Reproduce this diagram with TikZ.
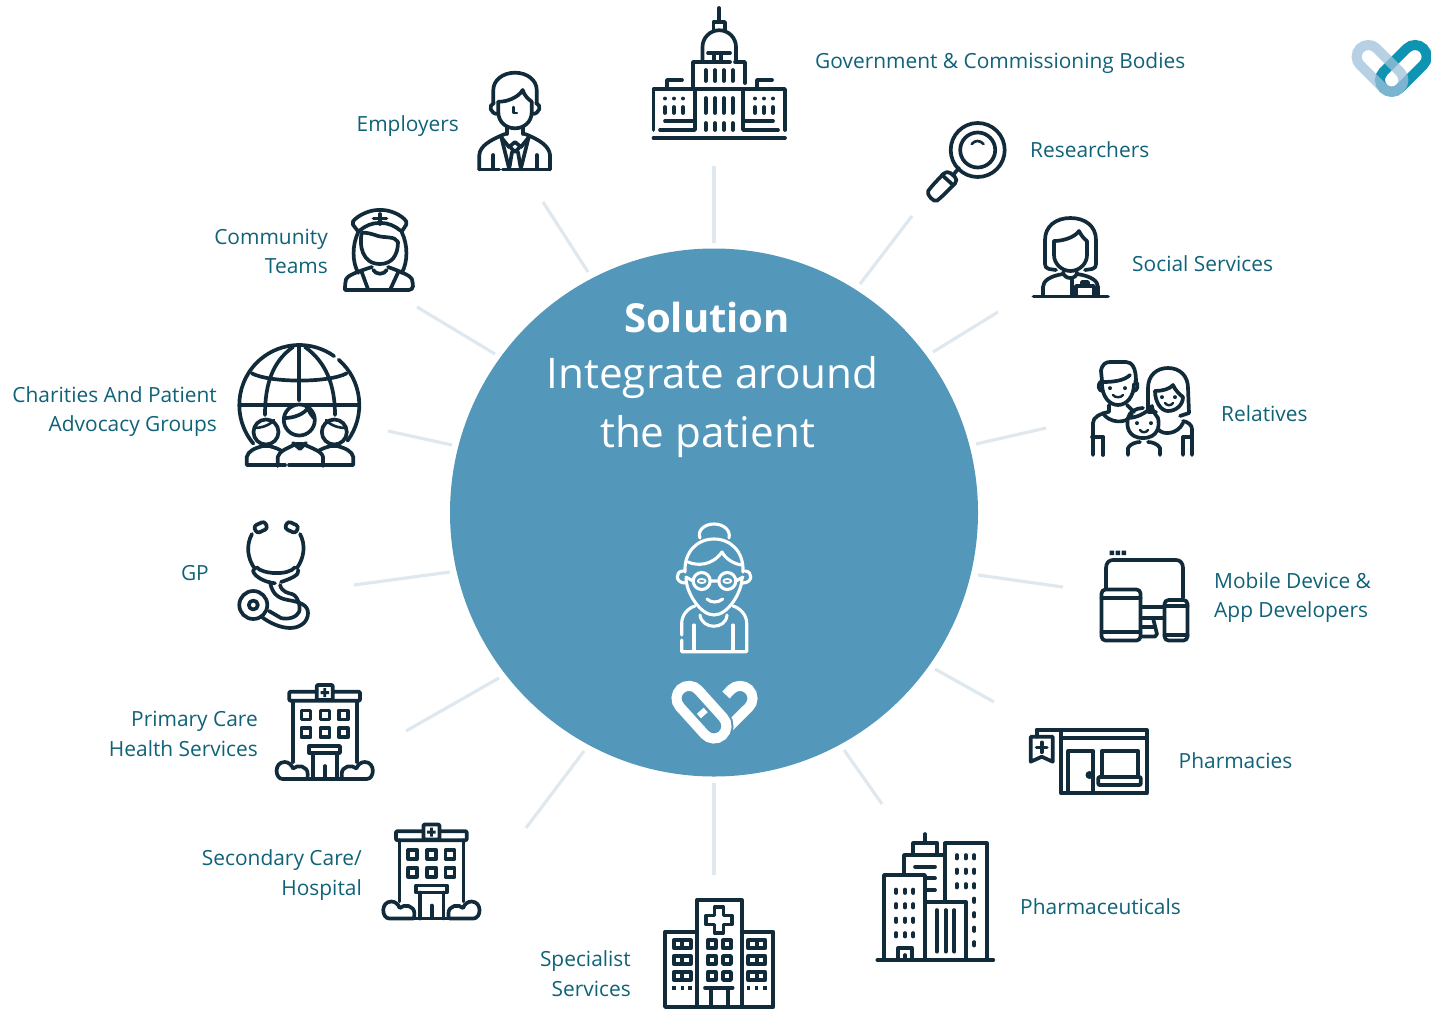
\documentclass[tikz,border=0pt]{standalone}
\usepackage{fontspec}
\setmainfont{Open Sans}
\usetikzlibrary{positioning}
\definecolor{hubblue}{HTML}{5398BB}
\definecolor{labelteal}{HTML}{0F6278}
\definecolor{iconnavy}{HTML}{122B3A}
\definecolor{spokegrey}{HTML}{DFE8EE}
\definecolor{logolight}{HTML}{9FC0D9}
\definecolor{logoteal}{HTML}{0E93B3}
\tikzset{
  icon/.style={draw=iconnavy,line width=3.7pt,line cap=round,line join=round},
  whiteicon/.style={draw=white,line width=3.1pt,line cap=round,line join=round},
  spoke/.style={draw=spokegrey,line width=3.2pt},
  lefttext/.style={text=labelteal,font=\fontsize{20.9}{29.5}\selectfont,align=left,anchor=west,inner sep=0pt},
  righttext/.style={text=labelteal,font=\fontsize{20.9}{29.5}\selectfont,align=right,anchor=east,inner sep=0pt},
  hubtext/.style={text=white,font=\fontsize{42.2}{59}\selectfont,align=center,inner sep=0pt},
  hospital/.pic={
    \draw[icon,rounded corners=1pt] (-35.7,-0.3) rectangle (35,8.7);
    \draw[icon,rounded corners=1pt,fill=white] (-8.3,-7) rectangle (7.7,8);
    \fill[iconnavy] (-4.5,-1) rectangle (4,2) (-1.6,-3.8) rectangle (1.1,5);
    \draw[icon] (-32.3,8.7) -- (-32.3,70) (31.7,8.7) -- (31.7,70);
    \foreach \x in {-19,0,18.3} \foreach \y in {23,40.7}
      \draw[icon] (\x-4.5,\y-4.5) rectangle (\x+4.5,\y+4.5);
    \draw[icon] (-15.7,54) rectangle (15,61);
    \draw[icon] (-11.7,61) -- (-11.7,87) (11.7,61) -- (11.7,87) (0,74) -- (0,86);
    \draw[icon] (-18,87) -- (17,87);
    \foreach \s in {1,-1}
      \draw[icon,xshift=-0.3pt,xscale=\s] (-18,87) -- (-42,87) .. controls (-50,87) and (-51,70) .. (-40,70)
        .. controls (-36,70) and (-33,73) .. (-31.7,76.5) .. controls (-27,72) and (-17,74) .. (-17,82)
        .. controls (-17,84) and (-17,87) .. (-18,87);
  },
}

\begin{document}
\begin{tikzpicture}[x=1pt,y=-1pt]
\useasboundingbox (0,0) rectangle (1431,1009);

% Hub
\node[circle,fill=hubblue,inner sep=0pt,minimum size=528pt] (hub) at (714,512.5) {};
\node[hubtext,font=\fontsize{40}{59}\selectfont\bfseries] (solution) at (707,317.5) {Solution};
\node[hubtext] (integrate) at (712.5,377.5) {Integrate around};
\node[hubtext] (thepatient) at (707.5,437) {the patient};

% Spokes
\foreach \n/\ax/\ay/\bx/\by in {gov/714/243/714/166,res/860/284/912/216,soc/933/352/998/312,
    rel/976/444/1046/428,mob/978/575/1063/587,pha/935/669/994/702,phc/844/750/882/804,
    spe/714/783/714/875,sec/584/751/526/828,pri/499/678/406/731,gp/450/572/354/585,
    cha/452/445/388/431,com/495/354/417/307,emp/588/272/543/202} {
  \coordinate (\n inner) at (\ax,\ay);
  \coordinate (\n outer) at (\bx,\by);
  \draw[spoke] (\n inner) -- (\n outer);
}

% Labels
\node[lefttext] (govlabel) at (815,63) {Government \& Commissioning Bodies};
\node[lefttext] (reslabel) at (1030,150) {Researchers};
\node[lefttext] (soclabel) at (1132,263.5) {Social Services};
\node[lefttext] (rellabel) at (1221,414) {Relatives};
\node[lefttext] (moblabel) at (1214,597.5) {Mobile Device \&\\App Developers};
\node[lefttext] (phalabel) at (1178.5,760.5) {Pharmacies};
\node[lefttext] (phclabel) at (1020,906.5) {Pharmaceuticals};
\node[righttext] (spelabel) at (631,973.5) {Specialist\\Services};
\node[righttext] (seclabel) at (362,875) {Secondary Care/\\Hospital};
\node[righttext] (prilabel) at (258,734) {Primary Care\\Health Services};
\node[righttext] (gplabel) at (209,573) {GP};
\node[righttext] (chalabel) at (217,411.5) {Charities And Patient\\Advocacy Groups};
\node[righttext] (comlabel) at (328,251.5) {Community\\Teams};
\node[righttext] (emplabel) at (459,126) {Employers};

% Corner logo
\draw[logoteal,line width=10pt,rounded corners=11.7pt,rotate around={-135:(1415,56.7)}]
  (1403.3,45) rectangle (1459.7,68.4);
\draw[logolight,opacity=.75,line width=10pt,rounded corners=11.7pt,rotate around={-45:(1368.3,56.7)}]
  (1356.6,45) rectangle (1413,68.4);

% Patient
\draw[whiteicon] (700,538) .. controls (697,530) and (705,524) .. (714,524) .. controls (723,524) and (731,530) .. (729,538);
\draw[whiteicon] (685,572) .. controls (684,552) and (697,539) .. (714,539) .. controls (731,539) and (744,552) .. (743,572);
\draw[whiteicon] (686,578) .. controls (686,592) and (700,615) .. (714,615) .. controls (728,615) and (742,592) .. (742,578);
\draw[whiteicon] (688,562) .. controls (697,566) and (712,566) .. (722,552) .. controls (725,558) and (733,564) .. (742,565);
\draw[whiteicon] (683,571) .. controls (675,571) and (675,583) .. (685,583);
\draw[whiteicon] (745,571) .. controls (753,571) and (753,583) .. (743,583);
\draw[whiteicon] (701.7,581) circle (8.5) (727.3,581) circle (8.5);
\draw[whiteicon,line width=1.8pt] (701.7,581) ellipse (4 and 2) (727.3,581) ellipse (4 and 2);
\draw[whiteicon] (710,581) -- (719,581) (686,577) -- (693,581) (743,577) -- (736,581);
\draw[whiteicon] (707,599) .. controls (711,603) and (718,603) .. (722.7,599);
\draw[whiteicon] (681.7,635) -- (681.7,623) .. controls (681.7,615) and (688,608) .. (695,606);
\draw[whiteicon] (681.7,640) -- (681.7,651.7) -- (746.7,651.7) -- (746.7,623) .. controls (746.7,615) and (740,608) .. (733,606);
\draw[whiteicon] (694,625) -- (694,650) (733,625) -- (733,650);
\draw[whiteicon] (700,615) .. controls (702,630) and (726,630) .. (727,615);

% White logo
\draw[white,line width=10pt] (726,695) -- (731.2,689.5) arc[start angle=225,end angle=405,radius=12.5] -- (729,727);
\draw[hubblue,line width=14pt,rounded corners=12.5pt,rotate around={-48:(689,698.3)}]
  (676.5,685.8) rectangle (738.8,710.8);
\draw[white,line width=10pt,rounded corners=12.5pt,rotate around={-48:(689,698.3)}]
  (676.5,685.8) rectangle (738.8,710.8);
\fill[white,rotate around={-48:(702.3,713)}] (699.3,708.5) rectangle (705.3,717.5);

% Capitol
\draw[icon] (719,8) -- (719,21);
\draw[icon] (713.5,31) -- (713.5,22) -- (725,22) -- (725,31);
\draw[icon] (702.5,60) -- (702.5,47) arc[start angle=180,end angle=360,radius=16.75] -- (736,60);
\draw[icon] (708,53) -- (730,53) (714,55) -- (714,62) (721,55) -- (721,62);
\draw[icon] (730,62) -- (693,62) -- (693,88) (735,62) -- (745,62) -- (745,83);
\draw[icon] (653.5,130) -- (653.5,89) -- (785,89) -- (785,130);
\draw[icon] (667,87) -- (667,80) -- (682,80) (757,87) -- (757,80) -- (772,80);
\draw[icon] (695,89) -- (695,130) -- (660,130) (743,89) -- (743,130) -- (778,130);
\draw[icon] (665,121) -- (695,121) (745,121) -- (773,121);
\draw[icon] (653.5,138) -- (785,138);
\foreach \x in {705.7,715,723.7,732.7} {
  \draw[icon] (\x,70) -- (\x,81) (\x,98) -- (\x,113) (\x,123) -- (\x,130);
}
\foreach \x in {665,674,683,755,764,773} {
  \draw[icon] (\x,98.5) -- (\x,98.6) (\x,107) -- (\x,113);
}

% Magnifier
\draw[icon] (977.7,150) circle (27) (977.7,150) circle (17.5);
\draw[icon,line width=2.6pt] (971.7,144) .. controls (975,140) and (980,140) .. (983.5,144);
\draw[icon] (959,168) -- (953,175);
\draw[icon,rounded corners=5pt] (958.5,180) -- (947,170) -- (931,187) .. controls (926,194) and (934,203) .. (941,197.5) -- cycle;
\draw[icon] (942,175) -- (953,185);

% Social worker
\draw[icon] (1056,270) -- (1049,269) .. controls (1046,268) and (1045,267) .. (1045,264) -- (1045,240)
  .. controls (1045,226) and (1056,218) .. (1070.5,218) .. controls (1085,218) and (1096,226) .. (1096,240)
  -- (1096,264) .. controls (1096,267) and (1095,268) .. (1092,269) -- (1085,270);
\draw[icon] (1054,241) .. controls (1062,241) and (1074,238) .. (1079,231) .. controls (1081,235) and (1084,239) .. (1087,241);
\draw[icon] (1054,241) -- (1054,255) .. controls (1054,264) and (1062,271) .. (1070.5,271) .. controls (1079,271) and (1087,264) .. (1087,255) -- (1087,241);
\draw[icon] (1043,295) -- (1043,287) .. controls (1043,281) and (1050,276) .. (1063,274);
\draw[icon] (1098,295) -- (1098,287) .. controls (1098,281) and (1091,276) .. (1077,274);
\draw[icon] (1063,272) .. controls (1064,280) and (1077,280) .. (1077,272);
\draw[icon] (1072,280) -- (1072,295);
\draw[icon] (1076,296) -- (1076,286) -- (1094,286) -- (1094,296) (1082,286) -- (1082,282) -- (1088,282) -- (1088,286);
\draw[icon] (1033.5,296.5) -- (1108,296.5);

% Relatives
\draw[icon] (1102,381) -- (1101,371) .. controls (1102,364) and (1106,362) .. (1110,362) -- (1126,362) .. controls (1132,362) and (1136,368) .. (1136,381);
\draw[icon] (1103,382) .. controls (1112,382) and (1124,381) .. (1130,375);
\draw[icon] (1102,384) .. controls (1102,396) and (1109,405) .. (1118,405) .. controls (1127,405) and (1134,396) .. (1134,384);
\draw[icon] (1102,381) .. controls (1096,384) and (1099,392) .. (1103,391) (1135,381) .. controls (1140,384) and (1137,392) .. (1133,391);
\draw[icon] (1110,388) -- (1110,388.2) (1125,388) -- (1125,388.2);
\draw[icon,line width=2.4pt] (1113,395) .. controls (1115,398) and (1121,398) .. (1123,395);
\draw[icon] (1109,405) -- (1109,412) (1127,405) -- (1134,412);
\draw[icon] (1103,413) .. controls (1107,422) and (1127,426) .. (1132,414);
\draw[icon] (1093,455) -- (1093,423) .. controls (1093,417) and (1100,414) .. (1108,412);
\draw[icon] (1103,437) -- (1103,455);
\draw[icon] (1092,437) -- (1103,437);
\draw[icon] (1156,412) -- (1148,412) -- (1148,388) .. controls (1148,375) and (1157,368) .. (1168,368) .. controls (1180,368) and (1188,376) .. (1188,388) -- (1189,413) -- (1180,416);
\draw[icon] (1155,391) .. controls (1162,391) and (1170,389) .. (1173,385) .. controls (1175,390) and (1180,395) .. (1183,397);
\draw[icon] (1155,391) .. controls (1155,402) and (1161,411) .. (1168,411) .. controls (1176,411) and (1183,405) .. (1183,397);
\draw[icon] (1162,397) -- (1162,397.2) (1175,397) -- (1175,397.2);
\draw[icon,line width=2.4pt] (1165,403) .. controls (1167,406) and (1171,406) .. (1173,403);
\draw[icon] (1158,429) .. controls (1163,436) and (1178,434) .. (1183,423);
\draw[icon] (1183,455) -- (1183,437) (1192,455) -- (1192,429) .. controls (1192,425) and (1188,422) .. (1183,421);
\draw[icon] (1183,437) -- (1192,437);
\draw[icon,fill=white] (1128,418) .. controls (1126,426) and (1128,438) .. (1143,438) .. controls (1158,438) and (1160,426) .. (1158,418);
\draw[icon] (1128,418) .. controls (1135,418) and (1146,414) .. (1152,406) .. controls (1152,410) and (1155,414) .. (1158,418);
\draw[icon] (1128,418) .. controls (1129,412) and (1136,408) .. (1143,408);
\draw[icon] (1137,423) -- (1137,423.2) (1151,423) -- (1151,423.2);
\draw[icon,line width=2.4pt] (1140,430) .. controls (1142,433) and (1146,433) .. (1148,430);
\draw[icon] (1128,455) -- (1128,448) .. controls (1130,444) and (1136,442) .. (1140,442) (1148,442) .. controls (1152,442) and (1158,444) .. (1160,448) -- (1160,455);

% Devices
\fill[iconnavy] (1109.5,550.5) rectangle (1114,555) (1115.5,550.5) rectangle (1120,555) (1121.5,550.5) rectangle (1126,555);
\draw[icon] (1106,588) -- (1106,568) .. controls (1106,563) and (1109,560) .. (1113,560) -- (1176,560) .. controls (1180,560) and (1183,563) .. (1183,568) -- (1183,598);
\draw[icon,rounded corners=4pt] (1101.5,589.5) rectangle (1140.5,640.5);
\draw[icon] (1101.5,598.3) -- (1140.5,598.3) (1101.5,631.7) -- (1140.5,631.7);
\draw[icon,rounded corners=4pt] (1164.5,600) rectangle (1187.5,640.5);
\draw[icon] (1164.5,606) -- (1187.5,606) (1164.5,635) -- (1187.5,635);
\draw[icon] (1140.7,607.3) -- (1164.3,607.3) (1140.7,618) -- (1164.3,618);
\draw[icon] (1153,618) -- (1157,634) -- (1155,636.5) -- (1140.7,636.5);
\draw[icon] (1140.7,627) -- (1155,627);

% Pharmacy
\draw[icon] (1036.7,730) -- (1146.7,730) -- (1146.7,793.3) -- (1060.7,793.3) -- (1060.7,730) (1060.7,738.3) -- (1146.7,738.3);
\draw[icon] (1036.7,730) -- (1036.7,736.7);
\draw[icon] (1030.7,736.7) -- (1052.7,736.7) -- (1052.7,761.7) -- (1041.7,756.7) -- (1030.7,761.7) -- cycle;
\draw[icon,line width=3.6pt] (1036.5,747.3) -- (1046.9,747.3) (1041.7,742.3) -- (1041.7,752.3);
\draw[icon] (1068.3,793) -- (1068.3,751) -- (1093.3,751) -- (1093.3,793);
\fill[iconnavy] (1089.5,775) circle (4);
\draw[icon] (1101.7,777) -- (1101.7,751) -- (1138.3,751) -- (1138.3,777);
\draw[icon,rounded corners=1pt] (1098.3,777) rectangle (1140.7,785);

% Pharmaceuticals
\draw[icon] (877.3,960) -- (993.3,960);
\draw[icon] (884,960) -- (884,875) -- (925,875) -- (925,960);
\foreach \x in {896,905,913.3} \foreach \y in {889.5,904,918.5,933}
  \draw[icon] (\x,\y) -- (\x,\y+3.5);
\draw[icon] (898.3,960) -- (898.3,948) -- (911.7,948) -- (911.7,960) (905,955) -- (905,960);
\draw[icon] (904,875) -- (904,855) -- (945,855);
\draw[icon] (913.3,855) -- (913.3,843.3) -- (937.3,843.3) -- (937.3,855) (925,834) -- (925,843);
\draw[icon] (915,866.7) -- (935,866.7) (927,878.3) -- (935,878.3) (927,890) -- (935,890);
\draw[icon] (945,901) -- (945,843.3) -- (986.7,843.3) -- (986.7,960);
\foreach \x in {956.7,965.7,974.3} \foreach \y in {855,869.5,884}
  \draw[icon] (\x,\y) -- (\x,\y+3.5);
\foreach \y in {898.5,913,927.5,942}
  \draw[icon] (974.3,\y) -- (974.3,\y+3.5);
\draw[icon] (925,901.7) -- (965.7,901.7) -- (965.7,960);
\foreach \x in {936.7,945.7,954.3}
  \draw[icon] (\x,910) -- (\x,951.7);

% Specialist block
\draw[icon] (696.7,1007) -- (696.7,900) -- (741.7,900) -- (741.7,1007);
\draw[icon] (696.7,931.7) -- (665,931.7) -- (665,1007) -- (773.3,1007) -- (773.3,931.7) -- (741.7,931.7);
\draw[icon] (714.5,907) -- (723.5,907) -- (723.5,915.5) -- (732,915.5) -- (732,924.5) -- (723.5,924.5) -- (723.5,933) -- (714.5,933) -- (714.5,924.5) -- (706,924.5) -- (706,915.5) -- (714.5,915.5) -- cycle;
\foreach \y in {944.3,960,976} {
  \foreach \x in {711.7,727} \draw[icon] (\x-4,\y-4) rectangle (\x+4,\y+4);
  \foreach \x in {682.2,756.8} {
    \draw[icon] (\x-8.5,\y-4) rectangle (\x+8.5,\y+4);
    \draw[icon] (\x,\y-4) -- (\x,\y+4);
  }
}
\foreach \x in {674,682.3,690,748.3,756.7,765}
  \fill[iconnavy] (\x-1.7,986) rectangle (\x+1.7,989.5);
\draw[icon] (705,987.7) -- (732.7,987.7) (711,987.7) -- (711,1007) (728.3,987.7) -- (728.3,1007);

% Hospitals
\pic (priicon) at (325,692) {hospital};
\pic (secicon) at (431.7,831.5) {hospital};

% Stethoscope
\draw[icon,rounded corners=3pt,rotate around={25:(260.7,527.3)}] (254.7,523.3) rectangle (266.7,531.3);
\draw[icon,rounded corners=3pt,rotate around={-25:(291.7,527.3)}] (285.7,523.3) rectangle (297.7,531.3);
\draw[icon] (252,534) .. controls (246,545) and (247,558) .. (255,569);
\draw[icon] (300,534) .. controls (306,545) and (304,558) .. (297,568);
\draw[icon] (253.3,570) .. controls (252,574) and (262,582) .. (275,583.3) (281,582) .. controls (290,579) and (300,575) .. (298.3,570);
\draw[icon] (256.7,567.3) .. controls (262,574) and (288,576) .. (295,567.3);
\draw[icon] (270,582) .. controls (272,592) and (276,598) .. (288,600) .. controls (300,602) and (308,605) .. (308,613) .. controls (308,622) and (300,628) .. (290,628) .. controls (280,628) and (268,622) .. (262,617);
\draw[icon] (280,585) .. controls (282,592) and (288,593) .. (292,594);
\draw[icon] (292,594) .. controls (298,596) and (301,607) .. (299,612) .. controls (297,617) and (288,620) .. (281,618) -- (269,611);
\draw[icon] (253.3,605) circle (14) ;
\draw[icon] (253.3,605) circle (4.5);

% Community nurse
\draw[icon,rounded corners=2pt] (351.7,223) .. controls (358,215) and (370,210) .. (380,210) .. controls (390,210) and (402,215) .. (407.3,223) -- (401.7,231.7) .. controls (395,226) and (388,223) .. (380,223) .. controls (372,223) and (365,226) .. (358.3,231.7) -- cycle;
\draw[icon] (380,214) -- (380,224) (373.5,218.5) -- (386.5,218.5);
\draw[icon] (358.3,232) .. controls (352,245) and (352,262) .. (358.3,273) (401.7,232) .. controls (408,245) and (408,262) .. (401.7,273);
\draw[icon] (361.7,233) .. controls (359,245) and (362,264) .. (380,264) .. controls (392,264) and (398,255) .. (398,242) .. controls (395,236) and (385,238) .. (378,236) .. controls (372,234) and (366,232) .. (361.7,233);
\draw[icon,rounded corners=4pt] (345,290) -- (413,290) -- (413,283) .. controls (411,276) and (402,272) .. (388,267) (345,290) -- (345,283) .. controls (347,276) and (356,272) .. (372,267);
\draw[icon] (361.7,272) -- (368.3,290) (398.3,272) -- (390,290) (373.3,270) .. controls (376,275) and (384,275) .. (386.7,270);

% Employer
\draw[icon] (493.3,103) -- (493.3,90) .. controls (493.3,80) and (503,72.7) .. (515,72.7) .. controls (527,72.7) and (536.7,80) .. (536.7,90) -- (536.7,103);
\draw[icon] (498.3,101.7) .. controls (506,102) and (518,98) .. (522.7,90) .. controls (524,95) and (528,99) .. (531.7,101.7);
\draw[icon] (498.3,101.7) -- (498.3,112) .. controls (498.3,122) and (506,128.3) .. (515,128.3) .. controls (524,128.3) and (531.7,122) .. (531.7,112) -- (531.7,101.7);
\draw[icon] (494,103) .. controls (488,105) and (490,114) .. (498,114) (536,103) .. controls (542,105) and (540,114) .. (532,114);
\draw[icon,line width=2.4pt] (513.3,107) -- (513.3,113) -- (517,113);
\draw[icon] (506.7,127) -- (506.7,134) (523.3,127) -- (523.3,134);
\draw[icon] (479.3,169.5) -- (479.3,155) .. controls (480,146) and (490,140) .. (505,134);
\draw[icon] (550,169.5) -- (550,155) .. controls (549,146) and (540,140) .. (525,134);
\draw[icon] (479.3,169.5) -- (499.3,169.5) (502.7,169.5) -- (550,169.5);
\draw[icon] (493.3,155) -- (493.3,168) (536.7,155) -- (536.7,168);
\draw[icon] (501,136) -- (509,168) (529,136) -- (521,168);
\draw[icon] (501,137) -- (509,147) -- (515,142) -- (521,147) -- (529,137);
\draw[icon] (511,148) -- (515,152) -- (519,148) (512,152) -- (509.5,167) (518,152) -- (520.5,167);

% Globe with people
\draw[icon] (299.3,405) ++(140:60) arc[start angle=140,end angle=305.5,radius=60];
\draw[icon] (299.3,405) ++(311:60) arc[start angle=311,end angle=396.5,radius=60];
\draw[icon] (299.3,347) -- (299.3,400) (240,405) -- (358,405);
\draw[icon] (251.7,373.3) .. controls (270,383) and (329,383) .. (346.7,373.3);
\draw[icon] (293,347) .. controls (272,362) and (265,385) .. (265,415) (305,347) .. controls (326,362) and (335,385) .. (335,415);
\draw[icon,fill=white] (246.7,465) -- (246.7,457) .. controls (248,451) and (255,448) .. (263,446) -- (269,446) .. controls (277,448) and (285,451) .. (285,457) -- (285,465) -- cycle;
\draw[icon,fill=white] (353.3,465) -- (353.3,457) .. controls (352,451) and (345,448) .. (337,446) -- (331,446) .. controls (323,448) and (315,451) .. (315,457) -- (315,465) -- cycle;
\draw[icon,fill=white] (266,432) circle (12.5) (334.3,432) circle (12.5);
\draw[icon,line width=2.6pt] (254,428) .. controls (262,428) and (270,425) .. (274,420);
\draw[icon,line width=2.6pt] (346,428) .. controls (338,428) and (330,425) .. (326,420);
\draw[icon,fill=white] (277.7,466) -- (277.7,457) .. controls (279,451) and (288,448) .. (296,444) -- (303,444) .. controls (311,448) and (322,451) .. (323,457) -- (323,466);
\draw[icon] (277.7,465) -- (285,465) (289,465) -- (323,465);
\draw[icon,fill=white] (299.3,420) circle (15.5);
\draw[icon] (285,418) .. controls (294,418) and (304,414) .. (308,408) .. controls (309,412) and (312,416) .. (314,418);
\draw[icon] (293,443) -- (300,449) -- (306,443);
\end{tikzpicture}
\end{document}
